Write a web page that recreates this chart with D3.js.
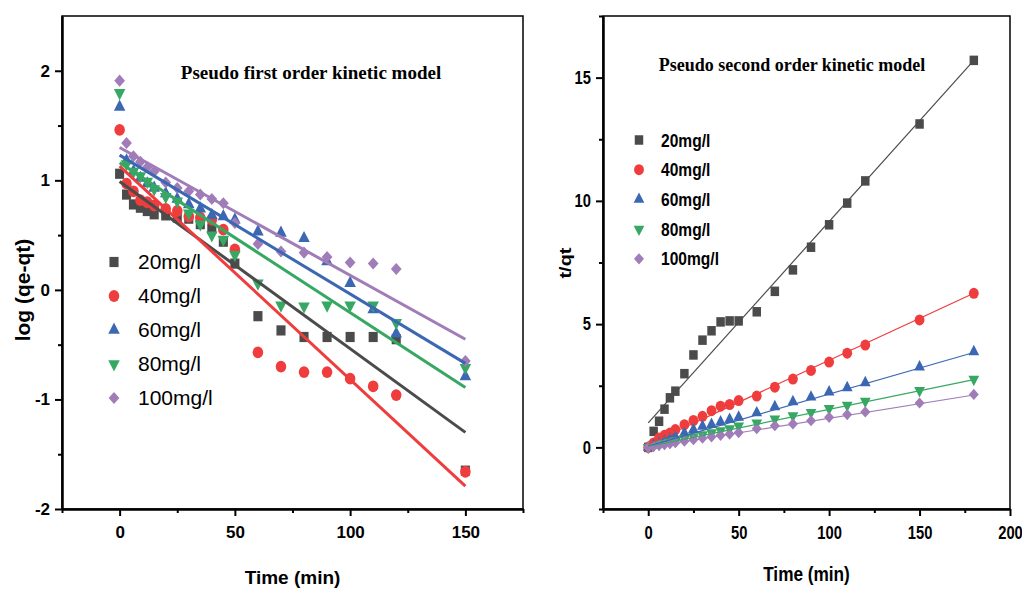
<!DOCTYPE html>
<html>
<head>
<meta charset="utf-8">
<script src="https://cdn.jsdelivr.net/npm/d3@7"></script>
<style>
  body { margin: 0; background: #fff; }
  svg { display: block; }
</style>
</head>
<body>
<svg width="1022" height="590"></svg>
<script>
// time points (min)
const timesPFO = [0, 3, 6, 9, 12, 15, 20, 25, 30, 35, 40, 45, 50, 60, 70, 80, 90, 100, 110, 120, 150]
const timesPSO = [0, 3, 6, 9, 12, 15, 20, 25, 30, 35, 40, 45, 50, 60, 70, 80, 90, 100, 110, 120, 150, 180]

const seriesNames = ['20mg/l', '40mg/l', '60mg/l', '80mg/l', '100mg/l']
const seriesColors = ['#4b4b4b', '#ef3d3d', '#3b67b3', '#37a863', '#a07cb8']

// log (qe-qt)
const log20 = [1.06, 0.87, 0.78, 0.75, 0.72, 0.69, 0.68, 0.66, 0.65, 0.6, 0.56, 0.44, 0.24, -0.24, -0.37, -0.43, -0.43, -0.43, -0.43, -0.45, -1.65]
const log40 = [1.46, 0.97, 0.9, 0.82, 0.8, 0.77, 0.74, 0.72, 0.67, 0.66, 0.64, 0.55, 0.37, -0.57, -0.7, -0.75, -0.75, -0.81, -0.88, -0.96, -1.66]
const log60 = [1.67, 1.18, 1.08, 1.02, 0.97, 0.93, 0.88, 0.83, 0.78, 0.74, 0.68, 0.67, 0.64, 0.53, 0.52, 0.47, 0.26, 0.06, -0.18, -0.4, -0.79]
const log80 = [1.8, 1.15, 1.08, 1.04, 0.99, 0.92, 0.85, 0.81, 0.7, 0.6, 0.5, 0.46, 0.32, 0.06, -0.14, -0.15, -0.14, -0.14, -0.14, -0.3, -0.71]
const log100 = [1.91, 1.34, 1.22, 1.17, 1.12, 1.08, 0.98, 0.93, 0.9, 0.87, 0.83, 0.79, 0.61, 0.42, 0.35, 0.34, 0.3, 0.25, 0.24, 0.19, -0.65]

// t/qt
const tq20 = [0, 0.65, 1.06, 1.55, 2.01, 2.28, 2.99, 3.75, 4.35, 4.73, 5.09, 5.13, 5.13, 5.5, 6.33, 7.2, 8.12, 9.03, 9.91, 10.81, 13.12, 15.7]
const tq40 = [0, 0.18, 0.38, 0.49, 0.58, 0.72, 0.92, 1.09, 1.26, 1.49, 1.67, 1.74, 1.9, 2.08, 2.44, 2.77, 3.12, 3.46, 3.82, 4.15, 5.17, 6.25]
const tq60 = [0, 0.09, 0.17, 0.26, 0.34, 0.43, 0.58, 0.72, 0.86, 0.93, 1.03, 1.13, 1.22, 1.4, 1.65, 1.85, 2.04, 2.25, 2.42, 2.62, 3.26, 3.88]
const tq80 = [0, 0.07, 0.12, 0.17, 0.22, 0.27, 0.35, 0.43, 0.51, 0.59, 0.68, 0.76, 0.87, 0.99, 1.15, 1.28, 1.42, 1.58, 1.71, 1.87, 2.31, 2.76]
const tq100 = [0, 0.04, 0.08, 0.11, 0.15, 0.19, 0.25, 0.31, 0.37, 0.43, 0.49, 0.54, 0.6, 0.76, 0.88, 0.95, 1.08, 1.22, 1.33, 1.44, 1.8, 2.15]

// linear fits (intercept, slope)
const pfoIntercept = [0.99, 1.13, 1.23, 1.16, 1.3]
const pfoSlope = [-0.01527, -0.01947, -0.01267, -0.01367, -0.01167]
const psoIntercept = [0.99, 0.13, 0.05, 0.03, 0.0]
const psoSlope = [0.0817, 0.034, 0.0211, 0.0151, 0.0118]

const svg = d3.select('svg')
const sans = '"Liberation Sans", Arial, sans-serif'

const shapes = [d3.symbolSquare, d3.symbolCircle, d3.symbolTriangle, d3.symbolTriangle, d3.symbolDiamond2]
const shapeSize = [72, 76, 50, 50, 64]
const rotate = [0, 0, 0, 180, 0]

function marker(sel, i, x, y, k) {
  sel.append('path')
    .attr('d', d3.symbol().type(shapes[i]).size(shapeSize[i] * k)())
    .attr('transform', `translate(${x},${y}) scale(1,1.12) rotate(${rotate[i]})`)
    .attr('fill', seriesColors[i])
}

// text squeezed horizontally (narrow look) around its own x
function squeeze(sel, sx) {
  sel.each(function () {
    const t = d3.select(this)
    const x0 = +t.attr('x') || 0
    t.attr('transform', `translate(${x0},0) scale(${sx},1) translate(${-x0},0)`)
  })
}

function drawPanel(cfg) {
  const x = d3.scaleLinear().domain(cfg.xDomain).range([cfg.left, cfg.right])
  const y = d3.scaleLinear().domain(cfg.yDomain).range([cfg.bottom, cfg.top])
  const g = svg.append('g')

  // frame
  g.append('rect')
    .attr('x', cfg.left).attr('y', cfg.top)
    .attr('width', cfg.right - cfg.left).attr('height', cfg.bottom - cfg.top)
    .attr('fill', 'none').attr('stroke', '#000').attr('stroke-width', 1.5)

  const fmt = d => String(d)
  g.append('g').attr('transform', `translate(0,${cfg.bottom})`)
    .call(d3.axisBottom(x).tickValues(cfg.xTicks).tickSize(7).tickSizeOuter(0).tickPadding(10).tickFormat(fmt))
  g.append('g').attr('transform', `translate(0,${cfg.bottom})`)
    .call(d3.axisBottom(x).tickValues(cfg.xMinor).tickSize(4).tickSizeOuter(0).tickFormat(''))
  g.append('g').attr('transform', `translate(${cfg.left},0)`)
    .call(d3.axisLeft(y).tickValues(cfg.yTicks).tickSize(7).tickSizeOuter(0).tickPadding(5).tickFormat(fmt))
  g.append('g').attr('transform', `translate(${cfg.left},0)`)
    .call(d3.axisLeft(y).tickValues(cfg.yMinor).tickSize(4).tickSizeOuter(0).tickFormat(''))

  g.selectAll('.domain').attr('stroke', '#000').attr('stroke-width', 2)
  g.selectAll('.tick line').attr('stroke', '#000').attr('stroke-width', 2)
  const tickText = g.selectAll('.tick text')
    .attr('fill', '#000')
    .style('font-family', sans)
    .style('font-weight', 'bold')
    .style('font-size', cfg.tickSize + 'px')
  squeeze(tickText, cfg.squeeze)

  // scatter points
  cfg.values.forEach((vals, i) => {
    const pts = g.append('g')
    cfg.times.forEach((t, j) => marker(pts, i, x(t), y(vals[j]), cfg.markK))
  })

  // fitted lines
  cfg.values.forEach((vals, i) => {
    const t0 = 0, t1 = cfg.fitEnd
    g.append('line')
      .attr('x1', x(t0)).attr('y1', y(cfg.intercept[i] + cfg.slope[i] * t0))
      .attr('x2', x(t1)).attr('y2', y(cfg.intercept[i] + cfg.slope[i] * t1))
      .attr('stroke', seriesColors[i])
      .attr('stroke-width', cfg.lineWidth)
  })

  // axis titles
  const xt = g.append('text')
    .attr('x', (cfg.left + cfg.right) / 2 + cfg.xTitleDx).attr('y', cfg.xTitleY)
    .attr('text-anchor', 'middle')
    .style('font-family', sans).style('font-weight', 'bold').style('font-size', cfg.titleSize + 'px')
    .text('Time (min)')
  squeeze(xt, cfg.squeeze)
  g.append('g')
    .attr('transform', `translate(${cfg.yTitleX},${cfg.yTitleY}) rotate(-90)`)
    .append('text')
    .attr('text-anchor', 'middle')
    .attr('transform', `scale(1,${cfg.squeeze})`)
    .style('font-family', sans).style('font-weight', 'bold').style('font-size', cfg.yTitleSize + 'px')
    .text(cfg.yLabel)

  // chart title
  g.append('text')
    .attr('x', cfg.headX).attr('y', cfg.headY)
    .attr('text-anchor', 'middle')
    .style('font-family', '"Liberation Serif", "Times New Roman", serif')
    .style('font-weight', 'bold').style('font-size', cfg.headSize + 'px')
    .text(cfg.heading)

  // legend
  seriesNames.forEach((name, i) => {
    const ly = cfg.legY + i * cfg.legStep
    marker(g, i, cfg.legX, ly, cfg.markK)
    const lt = g.append('text')
      .attr('x', cfg.legX + cfg.legGap).attr('y', ly)
      .attr('dy', '0.35em')
      .style('font-family', sans)
      .style('font-weight', cfg.legWeight)
      .style('font-size', cfg.legSize + 'px')
      .text(name)
    squeeze(lt, cfg.squeeze)
  })
}

drawPanel({
  left: 62, right: 523, top: 16, bottom: 509,
  xDomain: [-25, 175], yDomain: [-2, 2.5],
  xTicks: [0, 50, 100, 150], xMinor: [-25, 25, 75, 125, 175],
  yTicks: [-2, -1, 0, 1, 2], yMinor: [-1.5, -0.5, 0.5, 1.5],
  times: timesPFO, values: [log20, log40, log60, log80, log100],
  intercept: pfoIntercept, slope: pfoSlope, fitEnd: 150, lineWidth: 3, markK: 1.15,
  squeeze: 1, tickSize: 17, titleSize: 19, yTitleSize: 21,
  xTitleDx: 0, xTitleY: 584, yTitleX: 30, yTitleY: 290, yLabel: 'log (qe-qt)',
  heading: 'Pseudo first order kinetic model', headX: 311, headY: 79, headSize: 19,
  legX: 114, legY: 262, legStep: 34, legGap: 24,
  legWeight: 'normal', legSize: 21
})

drawPanel({
  left: 603, right: 1010, top: 16, bottom: 509,
  xDomain: [-25, 200], yDomain: [-2.5, 17.5],
  xTicks: [0, 50, 100, 150, 200], xMinor: [-25, 25, 75, 125, 175],
  yTicks: [0, 5, 10, 15], yMinor: [-2.5, 2.5, 7.5, 12.5, 17.5],
  times: timesPSO, values: [tq20, tq40, tq60, tq80, tq100],
  intercept: psoIntercept, slope: psoSlope, fitEnd: 180, lineWidth: 1.2, markK: 1,
  squeeze: 0.82, tickSize: 18, titleSize: 21, yTitleSize: 20,
  xTitleDx: 0, xTitleY: 581, yTitleX: 571, yTitleY: 263, yLabel: 't/qt',
  heading: 'Pseudo second order kinetic model', headX: 792, headY: 71, headSize: 18,
  legX: 639, legY: 140, legStep: 29.7, legGap: 22,
  legWeight: 'bold', legSize: 19
})
</script>
</body>
</html>
